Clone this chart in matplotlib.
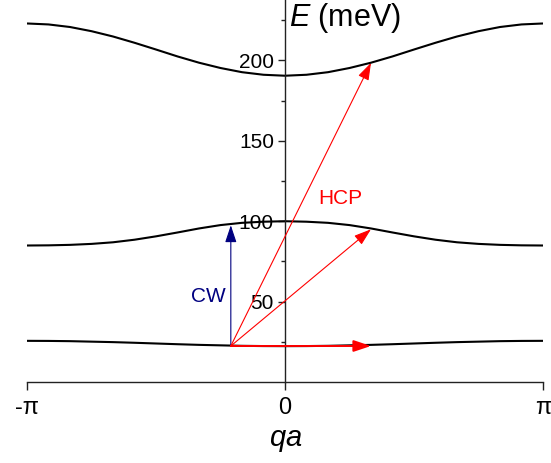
import matplotlib.pyplot as plt
import numpy as np

plt.rcParams['font.family'] = ['Liberation Sans', 'DejaVu Sans']
plt.rcParams['mathtext.fontset'] = 'custom'
plt.rcParams['mathtext.it'] = 'Liberation Sans:italic'
plt.rcParams['mathtext.rm'] = 'Liberation Sans'

# wave vector in units of pi
q_pi = [-1.0, -11/12, -10/12, -9/12, -8/12, -7/12, -6/12, -5/12, -4/12, -3/12, -2/12, -1/12, 0.0,
        1/12, 2/12, 3/12, 4/12, 5/12, 6/12, 7/12, 8/12, 9/12, 10/12, 11/12, 1.0]

# dispersion branches (meV)
e_low = [25.6, 25.55, 25.4, 25.1, 24.8, 24.4, 23.95, 23.5, 23.1, 22.8, 22.5, 22.35, 22.3,
         22.35, 22.5, 22.8, 23.1, 23.5, 23.95, 24.4, 24.8, 25.1, 25.4, 25.55, 25.6]
e_mid = [84.9, 85.0, 85.3, 85.9, 86.9, 88.5, 90.6, 93.0, 95.5, 97.6, 99.0, 99.7, 100.0,
         99.7, 99.0, 97.6, 95.5, 93.0, 90.6, 88.5, 86.9, 85.9, 85.3, 85.0, 84.9]
e_top = [223.0, 222.4, 220.8, 218.2, 214.9, 211.0, 206.8, 202.5, 198.6, 195.3, 192.7, 191.1, 190.5,
         191.1, 192.7, 195.3, 198.6, 202.5, 206.8, 211.0, 214.9, 218.2, 220.8, 222.4, 223.0]

# transitions
start = (-0.21, 22.4)
cw_end = (-0.21, 97.5)
hcp_ends = [(1/3, 22.4), (1/3, 95.0), (1/3, 198.5)]

fig = plt.figure(figsize=(5.51, 4.63), dpi=100)
ax = fig.add_axes([27/551, 81/463, 516/551, 382/463])

q = np.array(q_pi) * np.pi
for e in (e_low, e_mid, e_top):
    ax.plot(q, e, color='black', lw=1.5, solid_capstyle='butt')

def arrow(p0, p1, color, lw=0.8):
    ax.annotate('', xy=(p1[0] * np.pi, p1[1]), xytext=(p0[0] * np.pi, p0[1]),
                arrowprops=dict(arrowstyle='-|>,head_length=0.75,head_width=0.25',
                                color=color, lw=lw, shrinkA=0, shrinkB=0,
                                mutation_scale=14))

arrow(start, cw_end, '#000080')
for i, end in enumerate(hcp_ends):
    arrow(start, end, 'red', lw=1.4 if i == 0 else 0.8)

ax.text(-1.145, 49.7, 'CW', color='#000080', fontsize=15, va='baseline', ha='left')
ax.text(0.40, 110.5, 'HCP', color='red', fontsize=15, va='baseline', ha='left')
ax.text(0.05, 221.5, '$E$ (meV)', fontsize=22, va='baseline', ha='left')
fig.text(286/551, 1 - 446/463, '$qa$', fontsize=21, va='baseline', ha='center')

ax.set_xlim(-np.pi, np.pi)
ax.set_ylim(0, 237.6)
ax.spines['top'].set_visible(False)
ax.spines['right'].set_visible(False)
ax.spines['left'].set_position(('data', 0))
for s in ('left', 'bottom'):
    ax.spines[s].set_linewidth(1.0)
    ax.spines[s].set_color('#222222')

ax.set_xticks([-np.pi, 0, np.pi], ['-π', '0', 'π'])
ax.set_yticks([50, 100, 150, 200])
ax.set_yticks([25, 75, 125, 175, 225], minor=True)
ax.tick_params(axis='x', direction='out', length=6, width=1.0, pad=5,
               labelsize=17, color='#222222')
ax.tick_params(axis='y', which='major', direction='out', length=5, width=1.0,
               pad=3, labelsize=15, color='#222222')
ax.tick_params(axis='y', which='minor', direction='out', length=3, width=1.0,
               color='#222222')

fig.savefig('out.png', dpi=100)
